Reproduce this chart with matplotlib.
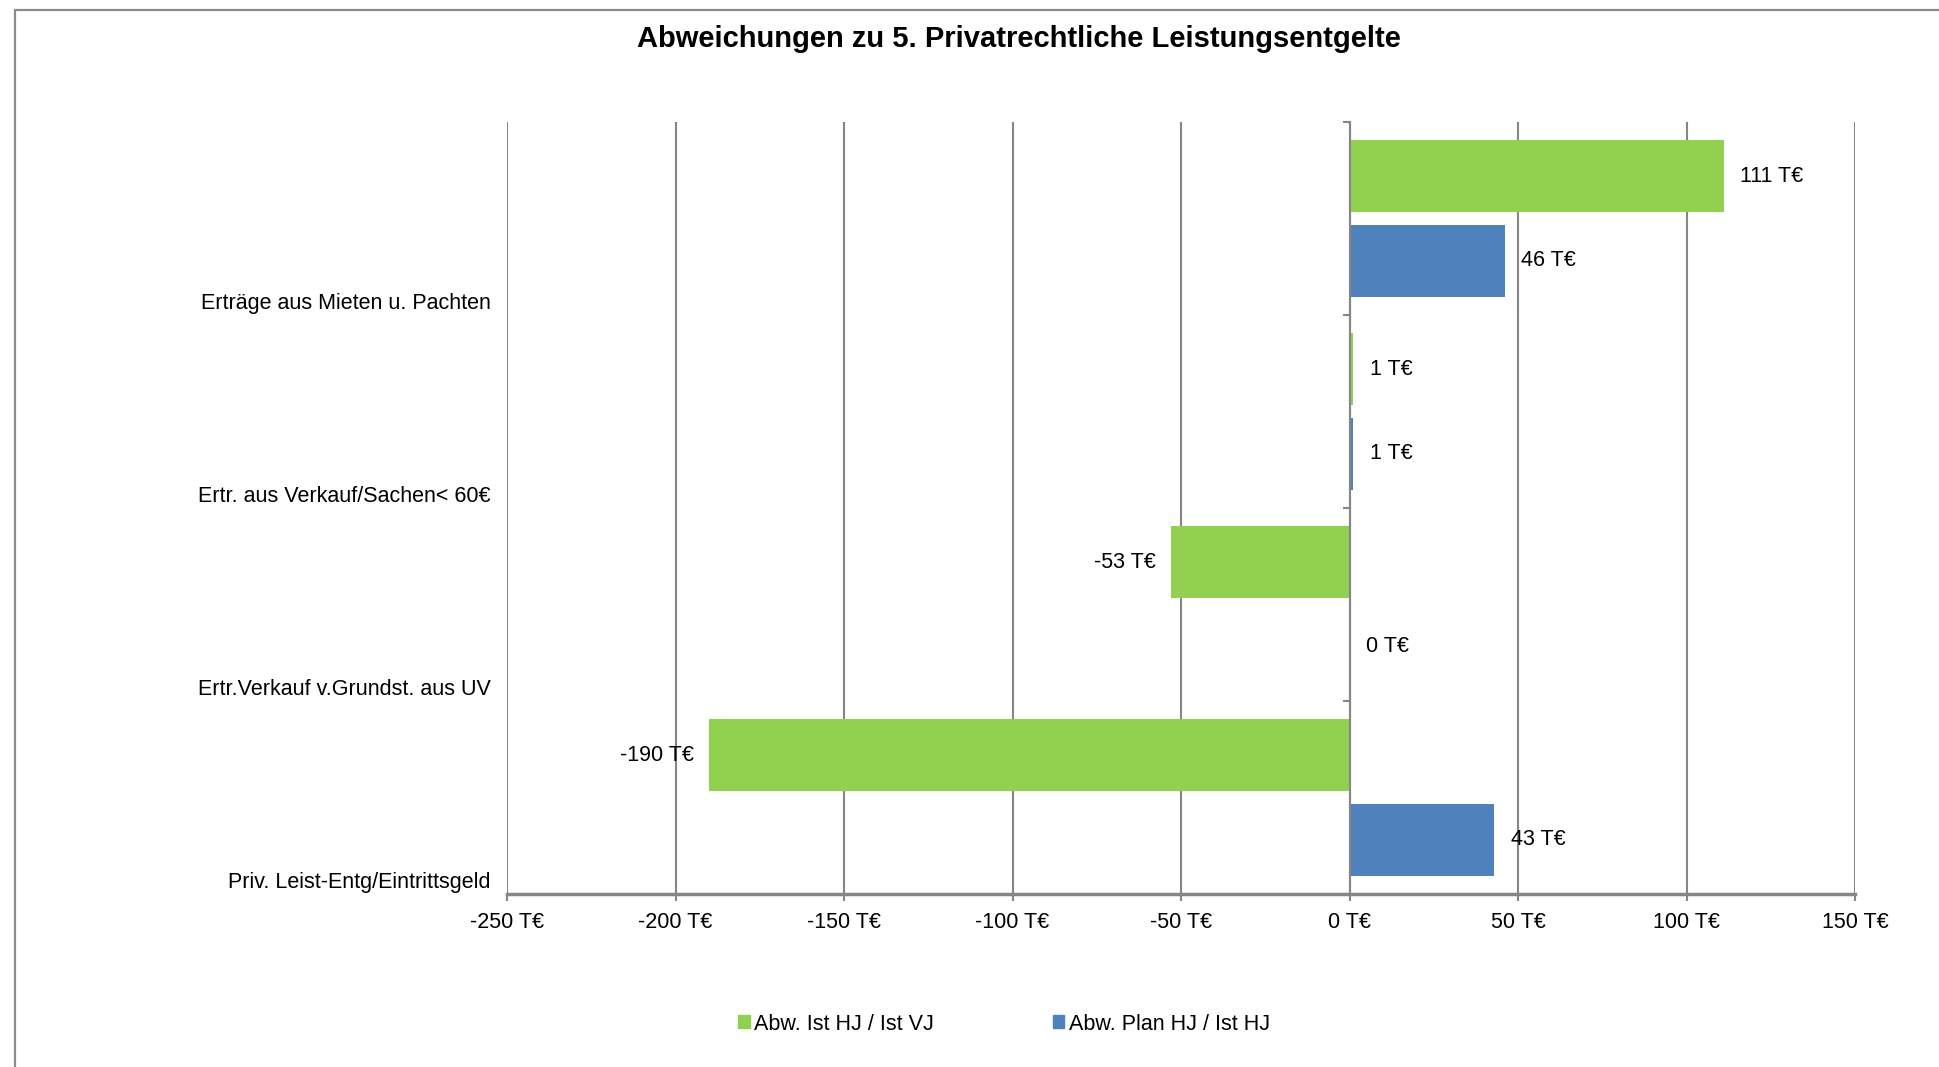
import numpy as np
import matplotlib
matplotlib.use("Agg")
import matplotlib.pyplot as plt
import matplotlib.transforms as mtransforms
from matplotlib.patches import Patch, Rectangle
from matplotlib.ticker import FuncFormatter

plt.rcParams['font.family'] = ['Liberation Sans', 'DejaVu Sans']

# chart data (T€)
categories = ['Erträge aus Mieten u. Pachten',
              'Ertr. aus Verkauf/Sachen< 60€',
              'Ertr.Verkauf v.Grundst. aus UV',
              'Priv. Leist-Entg/Eintrittsgeld']
ist_vj = [111, 1, -53, -190]   # Abw. Ist HJ / Ist VJ
plan_hj = [46, 1, 0, 43]       # Abw. Plan HJ / Ist HJ
series_names = ['Abw. Ist HJ / Ist VJ', 'Abw. Plan HJ / Ist HJ']
x_ticks = [-250, -200, -150, -100, -50, 0, 50, 100, 150]

green = '#92D050'
blue = '#4F81BD'
gray = '#868686'
fs = 15.5

fig = plt.figure(figsize=(19.39, 10.67), dpi=100)
ax = fig.add_axes([507 / 1939, 1 - 894 / 1067, (1855 - 507) / 1939, (894 - 122) / 1067])

# outer chart frame
fig.patches.append(Rectangle((15 / 1939, -0.05), 1.1, 1 - 10 / 1067 + 0.05,
                             transform=fig.transFigure, fill=False,
                             edgecolor='#8c8c8c', linewidth=1.6))

n = len(categories)
y = np.arange(n)[::-1]
h = 0.373
off = 0.22

ax.barh(y + off, ist_vj, height=h, color=green, label=series_names[0], zorder=3)
ax.barh(y - off, plan_hj, height=h, color=blue, label=series_names[1], zorder=3)

for yy, vals in ((y + off, ist_vj), (y - off, plan_hj)):
    for yi, v in zip(yy, vals):
        if v < 0:
            ax.annotate(f'{v:.0f} T€', (v, yi), xytext=(-11, 0), textcoords='offset points',
                        ha='right', va='center', fontsize=fs)
        else:
            ax.annotate(f'{v:.0f} T€', (v, yi), xytext=(12, 0), textcoords='offset points',
                        ha='left', va='center', fontsize=fs)

ax.set_xlim(-250, 150)
ax.set_ylim(-0.5, n - 0.5)
ax.set_xticks(x_ticks)
ax.xaxis.set_major_formatter(FuncFormatter(lambda v, p: f'{v:.0f} T€'))
ax.tick_params(axis='x', length=5, width=1.5, color=gray, labelsize=fs, pad=8)
ax.grid(axis='x', color=gray, linewidth=1.5, zorder=0)
ax.set_axisbelow(True)

# category axis sits on zero
ax.spines['left'].set_position(('data', 0))
ax.spines['left'].set_color(gray)
ax.spines['left'].set_linewidth(1.5)
ax.spines['left'].set_zorder(4)
ax.set_yticks(np.arange(-0.5, n, 1.0))
ax.set_yticklabels([])
ax.tick_params(axis='y', length=5, width=1.5, color=gray)
ax.spines['bottom'].set_color(gray)
ax.spines['bottom'].set_linewidth(2.5)
ax.spines['top'].set_visible(False)
ax.spines['right'].set_visible(False)

trans = mtransforms.blended_transform_factory(ax.transAxes, ax.transData)
for yi, lab in zip(y, categories):
    ax.text(-0.012, yi - 0.44, lab, transform=trans, ha='right', va='center', fontsize=fs)

fig.text(1019 / 1939, 1 - 39 / 1067, 'Abweichungen zu 5. Privatrechtliche Leistungsentgelte',
         ha='center', va='center', fontsize=21, fontweight='bold')

handles = [Patch(color=green), Patch(color=blue)]
fig.legend(handles, series_names, loc='center', bbox_to_anchor=(1004 / 1939, 1 - 1024 / 1067),
           ncol=2, frameon=False, fontsize=fs, handlelength=0.55, handleheight=0.55,
           handletextpad=0.2, columnspacing=5.5)

fig.savefig('out.png', dpi=100)
